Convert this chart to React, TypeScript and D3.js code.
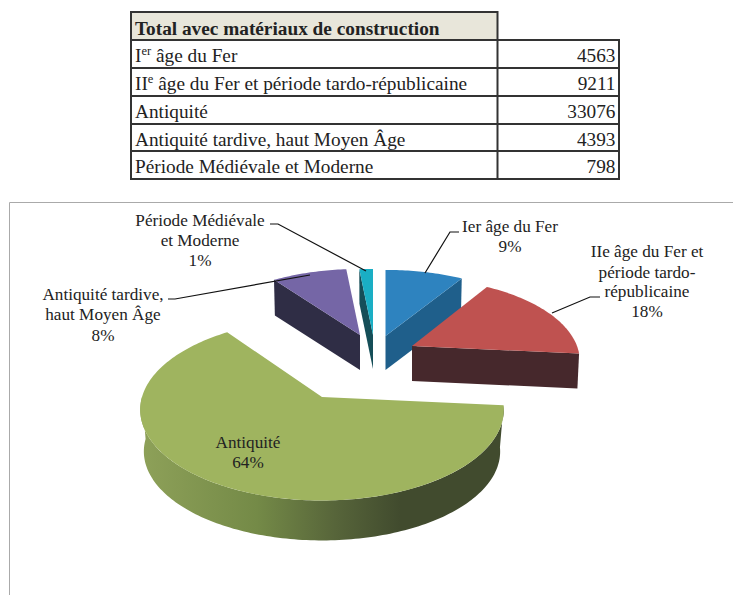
import React from "react";
import * as d3 from "d3";

const tableTitle = "Total avec matériaux de construction";
const categories = ["Ier âge du Fer", "IIe âge du Fer et période tardo-républicaine", "Antiquité", "Antiquité tardive, haut Moyen Âge", "Période Médiévale et Moderne"];
const tableNames: [string, string, string][] = [["I", "er", " âge du Fer"], ["II", "e", " âge du Fer et période tardo-républicaine"], ["Antiquité", "", ""], ["Antiquité tardive, haut Moyen Âge", "", ""], ["Période Médiévale et Moderne", "", ""]];
const values = [4563, 9211, 33076, 4393, 798];
const percentLabels = ["9%", "18%", "64%", "8%", "1%"];

const pieAngles = d3.pie<number>().sort(null)(values);
const FONT = "'Liberation Serif', serif";
const rowY = [12, 40, 68, 96, 124, 151, 179];

type Geo = { ax: number; ay: number; rx: number; ry: number; p: number; depth: number; bs: number };
const geos: Geo[] = [
  { ax: 385.5, ay: 336, rx: 168, ry: 78, p: 0.18, depth: 34, bs: 0.99 },
  { ax: 412, ay: 346, rx: 165, ry: 80, p: 0.18, depth: 35, bs: 0.99 },
  { ax: 322, ay: 397, rx: 180, ry: 89, p: 0.14, depth: 42, bs: 0.98 },
  { ax: 360, ay: 335, rx: 168, ry: 78, p: 0.18, depth: 35, bs: 0.99 },
  { ax: 373, ay: 335, rx: 168, ry: 78, p: 0.18, depth: 34, bs: 0.99 },
];
const topFill = ["#2e83bf", "#bf5250", "#9fb45f", "#7566a6", "#1aaec4"];
const cutFill = ["#1f5f8b", "#46282c", "#414b2e", "#2f2d45", "#154e58"];

function pt(g: Geo, a: number, bottom = false): [number, number] {
  const u = Math.sin(a), v = Math.cos(a), s = 1 / (1 + g.p * v), k = bottom ? g.bs : 1;
  return [g.ax + g.rx * u * s * k, g.ay - g.ry * v * s * k + (bottom ? g.depth : 0)];
}
const line = d3.line();
function arcPts(g: Geo, a0: number, a1: number, bottom = false) {
  const n = Math.max(2, Math.ceil(Math.abs(a1 - a0) / 0.02));
  return d3.range(n + 1).map((i) => pt(g, a0 + ((a1 - a0) * i) / n, bottom));
}
function topPath(g: Geo, a0: number, a1: number) {
  return line([[g.ax, g.ay], ...arcPts(g, a0, a1)])! + "Z";
}
function cutPath(g: Geo, a: number) {
  const o = pt(g, a), b = pt(g, a, true);
  return line([[g.ax, g.ay], o, b, [g.ax, g.ay + g.depth]])! + "Z";
}
function rimPath(g: Geo, a0: number, a1: number) {
  return line([...arcPts(g, a0, a1), ...arcPts(g, a1, a0, true)])! + "Z";
}

const sliceLabels: { i: number; x: number; ys: number[]; lines: string[] }[] = [
  { i: 0, x: 510, ys: [232, 252], lines: ["Ier âge du Fer", percentLabels[0]] },
  { i: 1, x: 647, ys: [257, 278, 297, 317], lines: ["IIe âge du Fer et", "période tardo-", "républicaine", percentLabels[1]] },
  { i: 2, x: 248, ys: [448, 468], lines: ["Antiquité", percentLabels[2]] },
  { i: 3, x: 103, ys: [300, 320, 341], lines: ["Antiquité tardive,", "haut Moyen Âge", percentLabels[3]] },
  { i: 4, x: 200, ys: [226, 246, 266], lines: ["Période Médiévale", "et Moderne", percentLabels[4]] },
];
const leaders: [number, number][][] = [
  [[459, 232], [450, 232], [425, 273]],
  [[600, 297], [590, 297], [552, 313]],
  [[168, 299], [175, 299], [310, 275]],
  [[270, 224], [278, 224], [366, 271]],
];

export default function App() {
  const [b, r, g, p, c] = pieAngles;
  return (
    <svg width={733} height={595} style={{ position: "absolute", left: 0, top: 0, background: "#fff" }} fontFamily={FONT}>
      <defs>
        <linearGradient id="rim" gradientUnits="userSpaceOnUse" x1={140} x2={400} y1={0} y2={0}>
          <stop offset="0" stopColor="#8ea159" />
          <stop offset="0.45" stopColor="#748a47" />
          <stop offset="0.75" stopColor="#57653a" />
          <stop offset="1" stopColor="#414b2e" />
        </linearGradient>
      </defs>
      {/* table */}
      <rect x={131} y={rowY[0]} width={366.5} height={rowY[1] - rowY[0]} fill="#e8e6da" />
      <g stroke="#333" strokeWidth={2} fill="none">
        <rect x={131} y={rowY[0]} width={366.5} height={rowY[1] - rowY[0]} />
        {rowY.slice(1).map((y) => <line key={y} x1={130} x2={620} y1={y} y2={y} />)}
        <line x1={131} x2={131} y1={rowY[1]} y2={rowY[6]} />
        <line x1={497.5} x2={497.5} y1={rowY[1]} y2={rowY[6]} />
        <line x1={619} x2={619} y1={rowY[1]} y2={rowY[6]} />
      </g>
      <text x={135} y={34.5} fontSize={19.3} fontWeight="bold" fill="#222">{tableTitle}</text>
      {tableNames.map((n, i) => (
        <text key={i} x={135} y={rowY[i + 1] + 21.5} fontSize={19.3} fill="#222">
          {n[0]}
          {n[1] && <tspan dy={-7} fontSize={12.5}>{n[1]}</tspan>}
          {n[1] && <tspan dy={7}>{n[2]}</tspan>}
        </text>
      ))}
      {values.map((v, i) => (
        <text key={i} x={615.5} y={rowY[i + 1] + 21.5} fontSize={19.3} fill="#222" textAnchor="end">{v}</text>
      ))}
      {/* frame */}
      <path d="M9.5 595V202.5H733" fill="none" stroke="#aaa" strokeWidth={1} />
      {/* pie: far to near */}
      <path d={cutPath(geos[3], p.startAngle)} fill={cutFill[3]} />
      <path d={topPath(geos[3], p.startAngle, p.endAngle)} fill={topFill[3]} />
      <path d={cutPath(geos[4], c.startAngle)} fill={cutFill[4]} />
      <path d={topPath(geos[4], c.startAngle, c.endAngle)} fill={topFill[4]} />
      <path d={cutPath(geos[0], b.endAngle)} fill={cutFill[0]} />
      <path d={topPath(geos[0], b.startAngle, b.endAngle)} fill={topFill[0]} />
      <path d={cutPath(geos[1], r.endAngle)} fill={cutFill[1]} />
      <path d={topPath(geos[1], r.startAngle, r.endAngle)} fill={topFill[1]} />
      <path d={rimPath(geos[2], g.startAngle, (3 * Math.PI) / 2)} fill="url(#rim)" />
      <path d={topPath(geos[2], g.startAngle, g.endAngle)} fill={topFill[2]} />
      {/* leaders */}
      {leaders.map((l, i) => <path key={i} d={line(l)!} fill="none" stroke="#111" strokeWidth={1.2} />)}
      {/* labels */}
      {sliceLabels.map((s) => (
        <text key={s.i} fontSize={17.2} fill="#222" textAnchor="middle" data-category={categories[s.i]}>
          {s.lines.map((t, j) => <tspan key={j} x={s.x} y={s.ys[j]}>{t}</tspan>)}
        </text>
      ))}
    </svg>
  );
}
